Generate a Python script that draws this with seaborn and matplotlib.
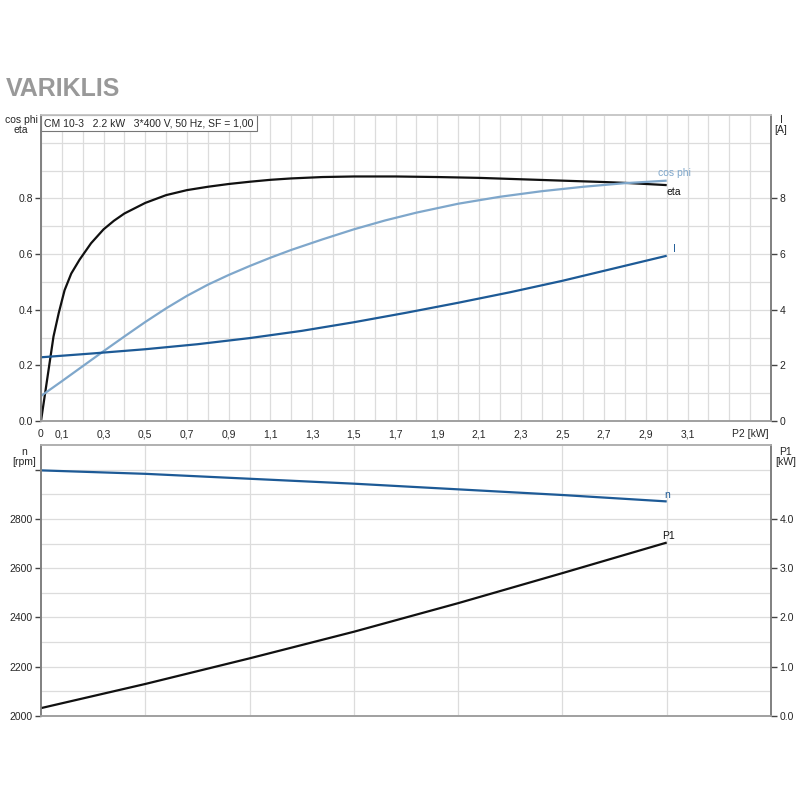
import matplotlib
matplotlib.use("Agg")
import matplotlib.pyplot as plt
import matplotlib.transforms as mtransforms
import numpy as np
import seaborn as sns

# curve values (P2 in kW)
p2_eta = [0, 0.06, 0.085, 0.113, 0.145, 0.185, 0.24, 0.3, 0.35, 0.4, 0.5, 0.6,
          0.7, 0.8, 0.9, 1.0, 1.1, 1.2, 1.35, 1.5, 1.7, 1.9, 2.1, 2.3, 2.5,
          2.7, 2.8, 2.9, 3.0]
eta = [0, 0.304, 0.388, 0.470, 0.530, 0.580, 0.639, 0.689, 0.720, 0.746, 0.784,
       0.812, 0.830, 0.842, 0.852, 0.860, 0.867, 0.872, 0.877, 0.879, 0.879,
       0.877, 0.874, 0.869, 0.864, 0.859, 0.856, 0.852, 0.848]

p2_cos = [0, 0.1, 0.2, 0.3, 0.4, 0.5, 0.6, 0.7, 0.8, 0.9, 1.0, 1.1, 1.2, 1.35,
          1.5, 1.65, 1.8, 2.0, 2.2, 2.4, 2.6, 2.8, 3.0]
cos_phi = [0.090, 0.143, 0.197, 0.251, 0.304, 0.356, 0.405, 0.450, 0.490,
           0.525, 0.557, 0.587, 0.615, 0.653, 0.689, 0.721, 0.749, 0.781,
           0.806, 0.826, 0.842, 0.855, 0.864]

p2_i = [0, 0.25, 0.5, 0.75, 1.0, 1.25, 1.5, 1.75, 2.0, 2.25, 2.5, 2.75, 3.0]
current = [2.29, 2.43, 2.58, 2.76, 2.98, 3.24, 3.55, 3.89, 4.25, 4.63, 5.04,
           5.49, 5.94]

p2_low = [0, 0.5, 1.0, 1.5, 2.0, 2.5, 3.0]
speed = [2997, 2983, 2963, 2943, 2920, 2897, 2871]
p1 = [0.16, 0.65, 1.17, 1.71, 2.29, 2.90, 3.52]

x_labels = ["0", "0,1", "", "0,3", "", "0,5", "", "0,7", "", "0,9", "", "1,1",
            "", "1,3", "", "1,5", "", "1,7", "", "1,9", "", "2,1", "", "2,3",
            "", "2,5", "", "2,7", "", "2,9", "", "3,1", "", "", "P2 [kW]"]

C_ETA = "#111111"
C_COS = "#7fa7cb"
C_BLUE = "#1d5a96"
GRID = "#dcdcdc"
SPINE = "#808080"
FS = 7.5

sns.set_style("white")
plt.rcParams["font.family"] = ["Liberation Sans", "DejaVu Sans"]
plt.rcParams["font.size"] = FS

fig = plt.figure(figsize=(8, 8), dpi=100)
ax = fig.add_axes([41 / 800, 1 - 421 / 800, 730 / 800, 306 / 800])
ax_i = ax.twinx()
bx = fig.add_axes([41 / 800, 1 - 716 / 800, 730 / 800, 271 / 800])
bx_p = bx.twinx()

line_kw = dict(linewidth=1.6, solid_joinstyle="round", solid_capstyle="butt")

# ---- upper chart: eta, cos phi, I ----
sns.lineplot(x=p2_eta, y=eta, ax=ax, color=C_ETA, **line_kw)
sns.lineplot(x=p2_cos, y=cos_phi, ax=ax, color=C_COS, **line_kw)
sns.lineplot(x=p2_i, y=current, ax=ax_i, color=C_BLUE, **line_kw)

ax.set_xlim(0, 3.5)
ax.set_ylim(0, 1.1)
ax_i.set_ylim(0, 11)
ax.set_xticks(np.arange(0, 3.45, 0.1))
ax.set_xticklabels(x_labels)
ax.set_yticks([0, 0.2, 0.4, 0.6, 0.8])
ax.set_yticklabels(["0.0", "0.2", "0.4", "0.6", "0.8"])
ax.set_yticks(np.arange(0.1, 1.05, 0.1), minor=True)
ax.grid(True, which="both", color=GRID, linewidth=0.9)
ax.set_axisbelow(True)
ax.tick_params(axis="both", which="major", length=4, width=1, color="#444444",
               labelsize=FS, pad=2)
ax.tick_params(axis="y", which="minor", length=0)
ax_i.set_yticks([0, 2, 4, 6, 8])
ax_i.tick_params(axis="y", length=4, width=1, color="#444444", labelsize=FS, pad=2)
ax_i.grid(False)
ax.set_xlabel("")
ax.set_ylabel("")
ax_i.set_ylabel("")

for a in (ax, ax_i):
    for s in a.spines.values():
        s.set_color(SPINE)
        s.set_linewidth(1.2)
    a.spines["top"].set_color("#c8c8c8")
    a.spines["bottom"].set_color("#a0a0a0")

ax.text(2.96, 0.891, "cos phi", color=C_COS, ha="left", va="center", fontsize=FS)
ax.text(3.0, 0.823, "eta", color=C_ETA, ha="left", va="center", fontsize=FS)
ax_i.text(3.03, 6.18, "I", color=C_BLUE, ha="left", va="center", fontsize=FS)

# info box sits in the upper left corner of the plot
box_tr = mtransforms.offset_copy(ax.transAxes, fig=fig, x=3, y=-3, units="dots")
ax.text(0.0, 1.0, "CM 10-3   2.2 kW   3*400 V, 50 Hz, SF = 1,00",
        transform=box_tr, ha="left", va="top", fontsize=FS, zorder=5,
        bbox=dict(boxstyle="square,pad=0.3", fc="white", ec="#777777", lw=0.8))

# ---- lower chart: n and P1 ----
sns.lineplot(x=p2_low, y=speed, ax=bx, color=C_BLUE, **line_kw)
sns.lineplot(x=p2_low, y=p1, ax=bx_p, color=C_ETA, **line_kw)

bx.set_xlim(0, 3.5)
bx.set_ylim(2000, 3100)
bx_p.set_ylim(0, 5.5)
bx.set_xticks(np.arange(0.5, 3.05, 0.5))
bx.set_xticklabels([])
bx.set_yticks([2000, 2200, 2400, 2600, 2800, 3000])
bx.set_yticklabels(["2000", "2200", "2400", "2600", "2800", ""])
bx.set_yticks(np.arange(2100, 3100, 100), minor=True)
bx.grid(True, which="both", color=GRID, linewidth=0.9)
bx.set_axisbelow(True)
bx.tick_params(axis="x", length=0)
bx.tick_params(axis="y", which="major", length=4, width=1, color="#444444",
               labelsize=FS, pad=2)
bx.tick_params(axis="y", which="minor", length=0)
bx_p.set_yticks([0, 1, 2, 3, 4])
bx_p.set_yticklabels(["0.0", "1.0", "2.0", "3.0", "4.0"])
bx_p.tick_params(axis="y", length=4, width=1, color="#444444", labelsize=FS, pad=2)
bx_p.grid(False)
bx.set_xlabel("")
bx.set_ylabel("")
bx_p.set_ylabel("")

for a in (bx, bx_p):
    for s in a.spines.values():
        s.set_color(SPINE)
        s.set_linewidth(1.2)
    a.spines["top"].set_color("#b0b0b0")
    a.spines["bottom"].set_color("#a0a0a0")

bx.text(3.0, 2897, "n", color=C_BLUE, ha="center", va="center", fontsize=FS)
bx_p.text(3.01, 3.65, "P1", color=C_ETA, ha="center", va="center", fontsize=FS)

# ---- headings and axis captions ----
fig.text(6 / 800, 1 - 96 / 800, "VARIKLIS", fontsize=18, weight="bold",
         color="#999999", ha="left", va="baseline")
fig.text(21 / 800, 1 - 115 / 800, "cos phi\neta", ha="center", va="top",
         fontsize=FS, linespacing=1.0)
fig.text(781 / 800, 1 - 115 / 800, "I\n[A]", ha="center", va="top",
         fontsize=FS, linespacing=1.0)
fig.text(24 / 800, 1 - 447 / 800, "n\n[rpm]", ha="center", va="top",
         fontsize=FS, linespacing=1.0)
fig.text(786 / 800, 1 - 447 / 800, "P1\n[kW]", ha="center", va="top",
         fontsize=FS, linespacing=1.0)

fig.savefig("out.png", dpi=100, facecolor="white")
